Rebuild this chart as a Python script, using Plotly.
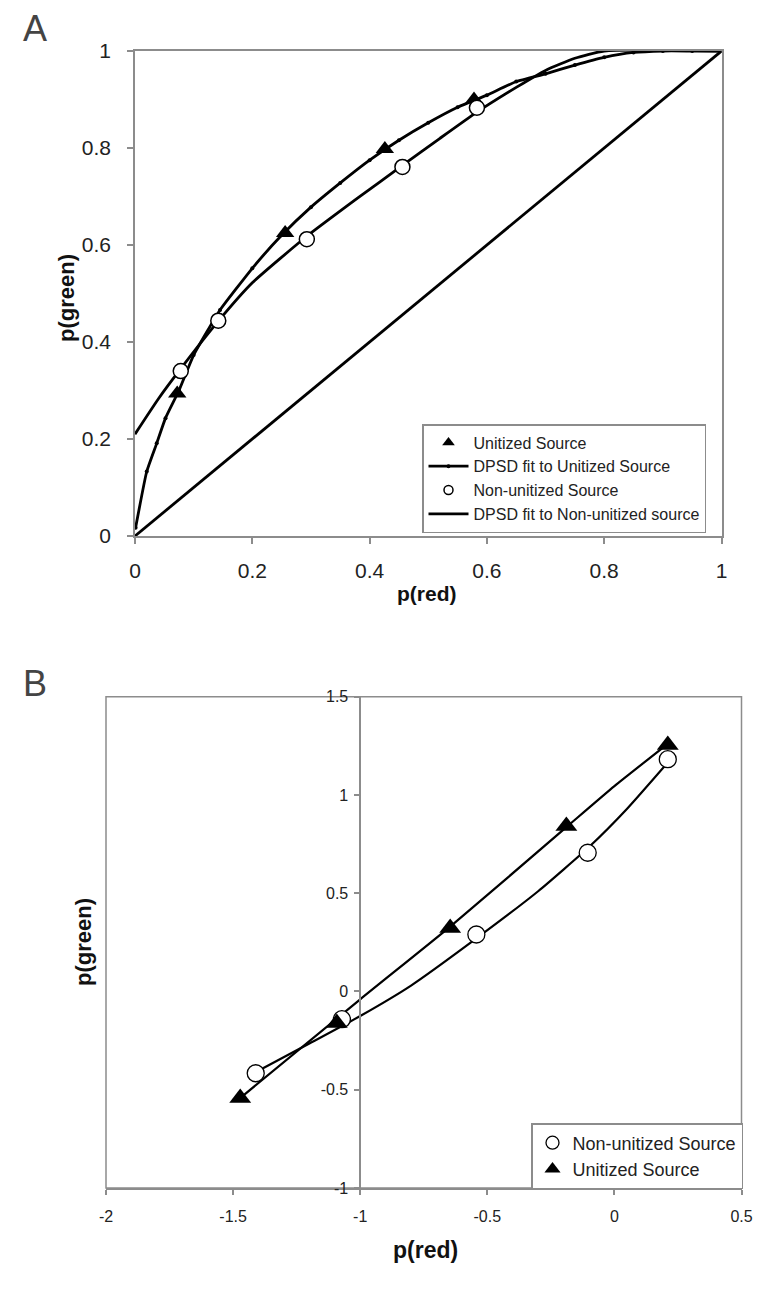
import plotly.graph_objects as go

# ---------------- Panel A data ----------------
uni_x = [0.072, 0.256, 0.426, 0.578]
uni_y = [0.294, 0.625, 0.798, 0.900]
non_x = [0.078, 0.142, 0.293, 0.456, 0.583]
non_y = [0.340, 0.444, 0.612, 0.761, 0.883]
ufit_x = [0.001, 0.02, 0.037, 0.052, 0.075, 0.1, 0.145, 0.2, 0.25, 0.3, 0.35, 0.4,
          0.45, 0.5, 0.55, 0.6, 0.65, 0.7, 0.75, 0.8, 0.85, 0.9, 0.95, 1.0]
ufit_y = [0.017, 0.133, 0.191, 0.243, 0.300, 0.373, 0.466, 0.552, 0.620, 0.678, 0.728, 0.775,
          0.816, 0.852, 0.884, 0.909, 0.937, 0.953, 0.971, 0.987, 0.997, 1.0, 1.0, 1.0]
nfit_x = [0, 0.04, 0.078, 0.142, 0.2, 0.293, 0.38, 0.456, 0.52, 0.583, 0.65, 0.7, 0.75, 0.8, 1.0]
nfit_y = [0.21, 0.283, 0.345, 0.443, 0.522, 0.618, 0.697, 0.764, 0.82, 0.874, 0.925, 0.96, 0.985, 1.0, 1.0]
chance_x = [0, 1]
chance_y = [0, 1]

# ---------------- Panel B data ----------------
bnon_x = [-1.411, -1.072, -0.543, -0.105, 0.210]
bnon_y = [-0.416, -0.141, 0.290, 0.706, 1.182]
buni_x = [-1.472, -1.092, -0.646, -0.189, 0.210]
buni_y = [-0.542, -0.161, 0.323, 0.842, 1.254]
bnfit_x = [-1.41, -1.2, -1.0, -0.8, -0.543, -0.3, -0.1, 0.05, 0.21]
bnfit_y = [-0.41, -0.265, -0.125, 0.03, 0.27, 0.51, 0.735, 0.93, 1.165]
bufit_x = [-1.47, -1.0, -0.646, -0.19, 0.0, 0.21]
bufit_y = [-0.54, -0.04, 0.33, 0.835, 1.045, 1.26]

a_ticks = [0, 0.2, 0.4, 0.6, 0.8, 1]
a_labels = ["0", "0.2", "0.4", "0.6", "0.8", "1"]
bx_ticks = [-2, -1.5, -1, -0.5, 0, 0.5]
bx_labels = ["-2", "-1.5", "-1", "-0.5", "0", "0.5"]
by_ticks = [-1, -0.5, 0, 0.5, 1, 1.5]
by_labels = ["-1", "-0.5", "0", "0.5", "1", "1.5"]

FONT = "Liberation Sans, Arial, sans-serif"
AXC = "#8c8c8c"
OFF = 8                      # page body margin
W, H = 775 - 2 * OFF, 1296 - 2 * OFF


def fx(px):
    return (px - OFF) / W


def fy(py):
    return 1 - (py - OFF) / H


fig = go.Figure()

# Panel A
fig.add_trace(go.Scatter(x=chance_x, y=chance_y, mode="lines", line=dict(color="black", width=2.8),
                         showlegend=False, xaxis="x", yaxis="y"))
fig.add_trace(go.Scatter(x=nfit_x, y=nfit_y, mode="lines",
                         line=dict(color="black", width=2.8, shape="spline", smoothing=0.5),
                         showlegend=False, xaxis="x", yaxis="y"))
fig.add_trace(go.Scatter(x=ufit_x, y=ufit_y, mode="lines+markers",
                         marker=dict(size=4, color="black"),
                         line=dict(color="black", width=2.8, shape="spline", smoothing=0.4),
                         showlegend=False, xaxis="x", yaxis="y"))
fig.add_trace(go.Scatter(x=uni_x, y=uni_y, mode="markers",
                         marker=dict(symbol="triangle-up", size=16, color="black"),
                         showlegend=False, xaxis="x", yaxis="y"))
fig.add_trace(go.Scatter(x=non_x, y=non_y, mode="markers",
                         marker=dict(symbol="circle", size=15, color="white", line=dict(color="black", width=1.5)),
                         showlegend=False, xaxis="x", yaxis="y"))

# Legend A entries
fig.add_trace(go.Scatter(x=[None], y=[None], mode="markers", name="Unitized Source",
                         marker=dict(symbol="triangle-up", size=11, color="black"),
                         legend="legend", xaxis="x", yaxis="y"))
fig.add_trace(go.Scatter(x=[None], y=[None], mode="lines+markers", name="DPSD fit to Unitized Source",
                         marker=dict(size=4, color="black"), line=dict(color="black", width=2.8),
                         legend="legend", xaxis="x", yaxis="y"))
fig.add_trace(go.Scatter(x=[None], y=[None], mode="markers", name="Non-unitized Source",
                         marker=dict(symbol="circle", size=9, color="white", line=dict(color="black", width=1.5)),
                         legend="legend", xaxis="x", yaxis="y"))
fig.add_trace(go.Scatter(x=[None], y=[None], mode="lines", name="DPSD fit to Non-unitized source",
                         line=dict(color="black", width=2.8),
                         legend="legend", xaxis="x", yaxis="y"))

# Panel B
fig.add_trace(go.Scatter(x=bufit_x, y=bufit_y, mode="lines",
                         line=dict(color="black", width=2.2, shape="spline", smoothing=0.5),
                         showlegend=False, xaxis="x2", yaxis="y2"))
fig.add_trace(go.Scatter(x=bnfit_x, y=bnfit_y, mode="lines",
                         line=dict(color="black", width=2.2, shape="spline", smoothing=0.5),
                         showlegend=False, xaxis="x2", yaxis="y2"))
fig.add_trace(go.Scatter(x=bnon_x, y=bnon_y, mode="markers", name="Non-unitized Source",
                         marker=dict(symbol="circle", size=17, color="white", line=dict(color="black", width=1.3)),
                         showlegend=False, xaxis="x2", yaxis="y2"))
fig.add_trace(go.Scatter(x=buni_x, y=buni_y, mode="markers", name="Unitized Source",
                         marker=dict(symbol="triangle-up", size=19, color="black"),
                         showlegend=False, xaxis="x2", yaxis="y2"))
fig.add_trace(go.Scatter(x=[None], y=[None], mode="markers", name="Non-unitized Source",
                         marker=dict(symbol="circle", size=13, color="white", line=dict(color="black", width=1.3)),
                         legend="legend2", xaxis="x2", yaxis="y2"))
fig.add_trace(go.Scatter(x=[None], y=[None], mode="markers", name="Unitized Source",
                         marker=dict(symbol="triangle-up", size=14, color="black"),
                         legend="legend2", xaxis="x2", yaxis="y2"))

axA = dict(showgrid=False, zeroline=False, showline=True, linecolor=AXC, linewidth=1.5, mirror=True,
           ticks="outside", ticklen=6, tickcolor=AXC, tickwidth=1.5, automargin=False,
           tickfont=dict(family=FONT, size=21, color="#222"), range=[0, 1],
           tickmode="array", tickvals=a_ticks, ticktext=a_labels)

xa_dom = [fx(135), fx(721.5)]
ya_dom = [fy(536), fy(51)]
xb_dom = [fx(106), fx(741.5)]
yb_dom = [fy(1188), fy(696.7)]
yb_pos = xb_dom[0] + (xb_dom[1] - xb_dom[0]) * (1.0 / 2.5)


def ann(text, px, py, size, color="#111", angle=0):
    return dict(text=text, x=fx(px), y=fy(py), xref="paper", yref="paper", showarrow=False,
                xanchor="center", yanchor="middle", textangle=angle,
                font=dict(family=FONT, size=size, color=color))


fig.update_layout(
    template="none",
    width=W, height=H, autosize=False,
    margin=dict(l=0, r=0, t=0, b=0, pad=0, autoexpand=False),
    paper_bgcolor="white", plot_bgcolor="white",
    font=dict(family=FONT, color="#222"),
    xaxis=dict(axA, domain=xa_dom, anchor="y", ticklabelstandoff=9),
    yaxis=dict(axA, domain=ya_dom, anchor="x", ticklabelstandoff=12),
    xaxis2=dict(domain=xb_dom, anchor="y2", range=[-2, 0.5], showgrid=False, zeroline=False,
                showline=True, linecolor=AXC, linewidth=1.5, ticks="outside", ticklen=5, automargin=False,
                tickcolor=AXC, tickwidth=1.5, tickfont=dict(family=FONT, size=16, color="#222"),
                tickmode="array", tickvals=bx_ticks, ticktext=bx_labels, ticklabelstandoff=8),
    yaxis2=dict(domain=yb_dom, anchor="free", position=yb_pos, range=[-1, 1.5], showgrid=False,
                zeroline=False, showline=True, linecolor=AXC, linewidth=1.5, ticks="outside", ticklen=5,
                automargin=False,
                tickcolor=AXC, tickwidth=1.5, tickfont=dict(family=FONT, size=16, color="#222"),
                tickmode="array", tickvals=by_ticks, ticktext=by_labels, ticklabelstandoff=3),
    legend=dict(x=fx(422), y=fy(424), xanchor="left", yanchor="top", bgcolor="white",
                bordercolor=AXC, borderwidth=1.5, font=dict(family=FONT, size=16, color="#222"),
                itemwidth=40, tracegroupgap=0, itemsizing="trace"),
    legend2=dict(x=fx(531), y=fy(1123), xanchor="left", yanchor="top", bgcolor="white",
                 bordercolor=AXC, borderwidth=1.5, font=dict(family=FONT, size=18, color="#222"),
                 itemwidth=30, tracegroupgap=0, itemsizing="trace"),
    shapes=[dict(type="rect", xref="x2 domain", yref="y2 domain", x0=0, x1=1, y0=0, y1=1,
                 line=dict(color=AXC, width=1.5), layer="below")],
    annotations=[
        ann("A", 35, 29, 36, "#444"),
        ann("B", 35, 683, 36, "#444"),
        ann("<b>p(red)</b>", 427, 593, 21),
        ann("<b>p(green)</b>", 66, 298, 22, angle=-90),
        ann("<b>p(red)</b>", 425, 1250, 23),
        ann("<b>p(green)</b>", 83, 942, 22, angle=-90),
    ],
)

fig.write_html("out.html")
